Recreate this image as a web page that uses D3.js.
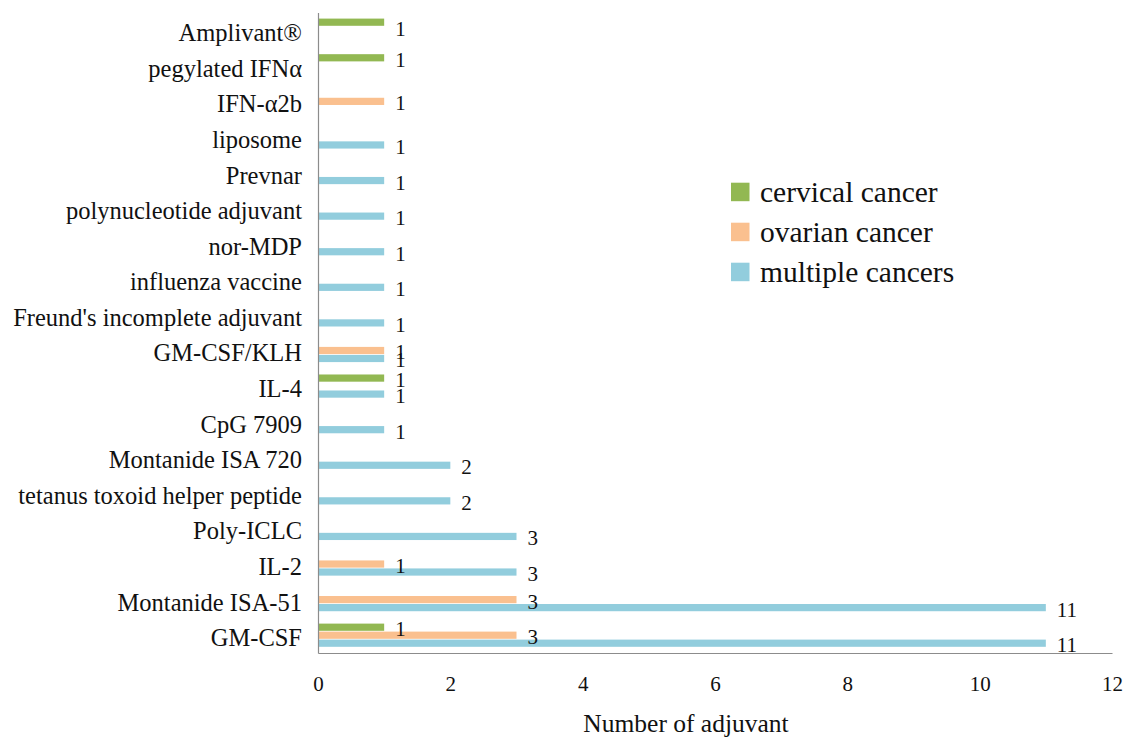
<!DOCTYPE html>
<html>
<head>
<meta charset="utf-8">
<script src="https://cdn.jsdelivr.net/npm/d3@7/dist/d3.min.js"></script>
</head>
<body style="margin:0;padding:0;background:#fff">
<svg id="chart" width="1126" height="740" style="display:block"></svg>
<script>
// Categories listed bottom to top
const categories = [
  "GM-CSF", "Montanide ISA-51", "IL-2", "Poly-ICLC", "tetanus toxoid helper peptide",
  "Montanide ISA 720", "CpG 7909", "IL-4", "GM-CSF/KLH", "Freund's incomplete adjuvant",
  "influenza vaccine", "nor-MDP", "polynucleotide adjuvant", "Prevnar", "liposome",
  "IFN-\u03b12b", "pegylated IFN\u03b1", "Amplivant\u00ae"
];
const seriesNames = ["cervical cancer", "ovarian cancer", "multiple cancers"];
const cervical = [1, 0, 0, 0, 0, 0, 0, 1, 0, 0, 0, 0, 0, 0, 0, 0, 1, 1];
const ovarian  = [3, 3, 1, 0, 0, 0, 0, 0, 1, 0, 0, 0, 0, 0, 0, 1, 0, 0];
const multiple = [11, 11, 3, 3, 2, 2, 1, 1, 1, 1, 1, 1, 1, 1, 1, 0, 0, 0];
const xTicks = [0, 2, 4, 6, 8, 10, 12];
const colors = ["#92b852", "#fac08f", "#92cddd"];
const axisTitle = "Number of adjuvant";

const seriesValues = [cervical, ovarian, multiple];
const FONT = "'Liberation Serif', 'Times New Roman', serif";

const svg = d3.select("#chart");
const plot = { left: 318, right: 1112, top: 12.4, bottom: 653 };

const x = d3.scaleLinear().domain([0, 12]).range([plot.left, plot.right]);
const y = d3.scaleBand().domain(categories.slice().reverse()).range([plot.top, plot.bottom]).padding(0);
const half = y.bandwidth() / 2;
const sub = d3.scaleBand().domain(seriesNames).range([half - 11.6, half + 11.6]).paddingInner(0.1);

// flatten records
const records = [];
categories.forEach((c, i) => {
  seriesNames.forEach((s, j) => {
    const v = seriesValues[j][i];
    if (v > 0) records.push({ cat: c, series: s, value: v, color: colors[j] });
  });
});

// bars
svg.append("g").selectAll("rect").data(records).join("rect")
  .attr("x", x(0))
  .attr("y", d => y(d.cat) + sub(d.series))
  .attr("width", d => x(d.value) - x(0))
  .attr("height", sub.bandwidth())
  .attr("fill", d => d.color);

// value labels
svg.append("g").selectAll("text").data(records).join("text")
  .attr("x", d => x(d.value) + 11)
  .attr("y", d => Math.max(y(d.cat) + sub(d.series) + sub.bandwidth() / 2 + 9, plot.top + 24))
  .style("font-family", FONT)
  .style("font-size", "21px")
  .style("fill", "#111")
  .text(d => d.value);

// x axis
const xAxis = svg.append("g")
  .attr("transform", `translate(0,${plot.bottom})`)
  .call(d3.axisBottom(x).tickValues(xTicks).tickSize(0).tickSizeOuter(0).tickFormat(d3.format("d")));
xAxis.select(".domain").attr("stroke", "#8c8c8c").attr("stroke-width", 1.2);
xAxis.selectAll(".tick text")
  .attr("y", 38).attr("dy", null)
  .style("font-family", FONT)
  .style("font-size", "21px")
  .style("fill", "#111");

// y axis
const yAxis = svg.append("g")
  .attr("transform", `translate(${plot.left},0)`)
  .call(d3.axisLeft(y).tickSize(0).tickSizeOuter(0));
yAxis.select(".domain").attr("stroke", "#8c8c8c").attr("stroke-width", 1.2);
yAxis.selectAll(".tick text")
  .attr("x", -16).attr("dy", null).attr("y", 11)
  .style("font-family", FONT)
  .style("font-size", "24.5px")
  .style("fill", "#111");

// axis title
svg.append("text")
  .attr("x", 686)
  .attr("y", 732)
  .attr("text-anchor", "middle")
  .style("font-family", FONT)
  .style("font-size", "25.5px")
  .style("fill", "#111")
  .text(axisTitle);

// legend
const legend = svg.append("g").attr("transform", "translate(731,0)");
const lg = legend.selectAll("g").data(seriesNames).join("g")
  .attr("transform", (d, i) => `translate(0,${201.7 + i * 40})`);
lg.append("rect")
  .attr("x", 0).attr("y", -19).attr("width", 18.5).attr("height", 18.5)
  .attr("fill", (d, i) => colors[i]);
lg.append("text")
  .attr("x", 29).attr("y", 0)
  .style("font-family", FONT)
  .style("font-size", "29.5px")
  .style("fill", "#111")
  .text(d => d);
</script>
</body>
</html>
